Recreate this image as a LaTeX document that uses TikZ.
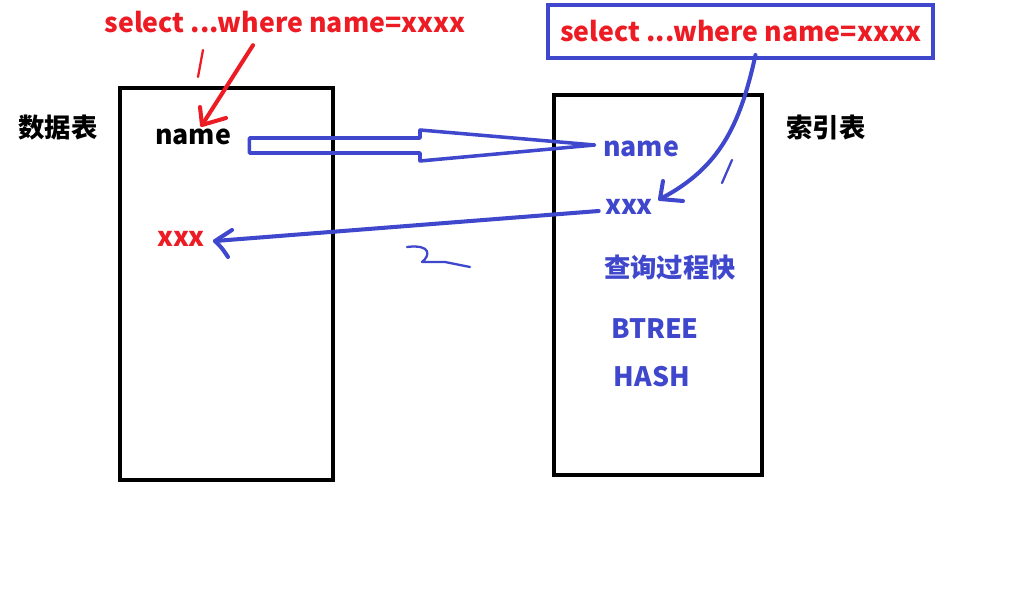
\documentclass[tikz,border=0pt]{standalone}
\usepackage{fontspec}
\setmainfont{Noto Sans CJK SC}
\usetikzlibrary{calc}
\definecolor{pred}{RGB}{237,28,36}
\definecolor{pblue}{RGB}{63,72,204}
\begin{document}
\begin{tikzpicture}[x=0.02cm,y=-0.02cm,
	tbl/.style={draw=black,line width=2.4pt,inner sep=0},
	zh/.style={font=\fontsize{15}{18}\selectfont\bfseries,inner sep=0},
	en/.style={font=\fontsize{15.2}{18}\selectfont\bfseries,inner sep=0},
	pen/.style={line width=2.3pt,line cap=round,line join=round},
	stroke/.style={line width=1.3pt,line cap=round,line join=round}]
	\useasboundingbox[fill=white] (0,0) rectangle (1018,604);
	% Tables
	\node[tbl,minimum width=4.26cm,minimum height=7.84cm] (data) at (226.5,284) {};
	\node[tbl,minimum width=4.16cm,minimum height=7.6cm] (index) at (658,285) {};
	\node[zh] (datatitle) at (58,128) {数据表};
	\node[zh] (indextitle) at (826,127) {索引表};
	% Queries
	\node[en,text=pred] (qdata) at (285,22) {select ...where name=xxxx};
	\node[en,text=pred,draw=pblue,line width=2.3pt,minimum width=7.7cm,minimum height=1.06cm] (qindex) at (740.5,31.5) {select ...where name=xxxx};
	% Entries
	\node[en] (dname) at (193,137) {name};
	\node[en,text=pred] (dxxx) at (181,239) {xxx};
	\node[en,text=pblue] (iname) at (641,149) {name};
	\node[en,text=pblue] (ixxx) at (629,207) {xxx};
	\node[zh,text=pblue] (fast) at (670,268) {查询过程快};
	\node[en,text=pblue] (btree) at (655,329) {BTREE};
	\node[en,text=pblue] (hash) at (652,377) {HASH};
	% Step 1: red arrow
	\coordinate (rtip) at (202,125);
	\draw[pen,pred] ($(qdata.south)+(-32,12)$) -- (rtip);
	\draw[pen,pred] (200,107) -- (rtip) -- (226,118);
	\draw[stroke,pred] (203,50) -- (198,77);
	% Hollow arrow
	\draw[pen,pblue,line width=2pt] ($(dname.east)+(18,1)$) -- (420,138) -- (420,130) -- ($(iname.west)+(-8,-4)$) -- (420,161) -- (420,153) -- ($(dname.east)+(18,16)$) -- cycle;
	% Step 1: blue curve
	\coordinate (btip) at (660,199);
	\draw[pen,pblue] ($(qindex.south)+(15,-5)$) .. controls (740,125) and (720,168) .. (btip);
	\draw[pen,pblue] (663,181) -- (btip) -- (683,201);
	\draw[stroke,pblue] (732,160) -- (722,183);
	% Step 2: back to the table
	\coordinate (ltip) at (215,241);
	\draw[pen,pblue] ($(ixxx.west)+(-6,4)$) -- (ltip);
	\draw[pen,pblue] (232,230) -- (ltip) .. controls (222,248) .. (228,257);
	\draw[stroke,pblue] (407,247) .. controls (432,244) and (430,256) .. (422,262) -- (445,262) -- (470,267);
\end{tikzpicture}
\end{document}
